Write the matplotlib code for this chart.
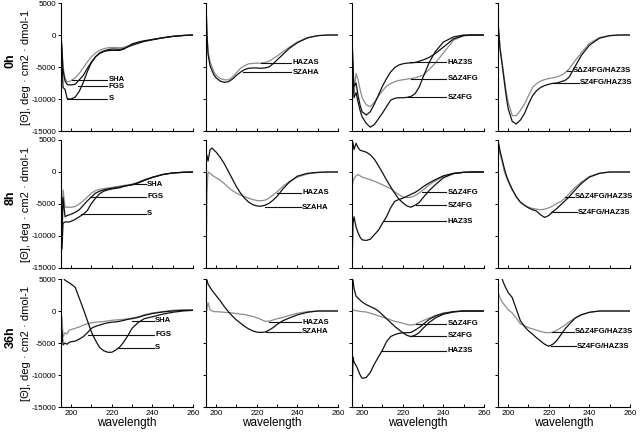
import matplotlib
matplotlib.use('Agg')
import matplotlib.pyplot as plt
from matplotlib.ticker import FixedLocator

plt.rcParams['font.family'] = ['Liberation Sans', 'DejaVu Sans']
plt.rcParams['axes.unicode_minus'] = False

# ---------------- data ----------------
WL = [195, 195.5, 196, 197, 198, 199, 200, 202, 204, 206, 208, 210, 212, 214, 216,
      218, 220, 222, 224, 226, 228, 230, 233, 236, 240, 245, 250, 255, 260]

row_names = ['0h', '8h', '36h']
x_ticks = [200, 220, 240, 260]
y_ticks = [5000, 0, -5000, -10000, -15000]

# 0h
h0_SHA = [0, -2000, -5000, -6800, -7300, -7300, -7100, -6700, -6000, -5100, -4200, -3400, -2800, -2400, -2150,
          -2000, -1950, -1950, -2000, -1900, -1700, -1500, -1200, -950, -700, -400, -200, -80, 0]
h0_FGS = [0, -2500, -5500, -7200, -7700, -7800, -7800, -7700, -7000, -6300, -5200, -4200, -3400, -2800, -2500,
          -2300, -2200, -2200, -2250, -2100, -1850, -1600, -1300, -1000, -750, -450, -220, -80, 0]
h0_S = [0, -4000, -8200, -8500, -9900, -10000, -10000, -9700, -8800, -7400, -5700, -4300, -3400, -2900, -2600,
        -2450, -2400, -2400, -2400, -2200, -1800, -1400, -1100, -900, -700, -450, -220, -80, 0]
h0_HAZAS = [5000, 0, -2500, -4200, -5000, -5800, -6300, -6800, -7000, -7000, -6600, -5900, -5200, -4800, -4500,
            -4450, -4400, -4400, -4300, -4100, -3700, -3300, -2600, -1900, -1100, -400, -100, 0, 0]
h0_SZAHA = [5000, 0, -3000, -4800, -5600, -6300, -6700, -7200, -7400, -7300, -6900, -6300, -5800, -5400, -5200,
            -5150, -5150, -5200, -5150, -5000, -4500, -3900, -3000, -2100, -1200, -450, -100, 0, 0]
h0_HAZ3S = [0, -5000, -8000, -7500, -9500, -11000, -12000, -12500, -12000, -10800, -9400, -8000, -6800, -5800, -5100,
            -4700, -4500, -4400, -4350, -4300, -4100, -3900, -3500, -2900, -1900, -600, -100, 0, 0]
h0_SdZ4FG = [0, -6000, -9000, -6000, -7000, -8500, -9800, -10900, -11200, -10500, -9600, -8700, -8000, -7600, -7300,
             -7100, -7000, -6900, -6800, -6700, -6500, -6300, -5400, -4400, -2800, -800, -100, 0, 0]
h0_SZ4FG = [0, -7000, -9800, -9000, -10500, -11800, -12800, -13800, -14400, -14000, -13100, -12200, -11200, -10200, -9900,
            -9800, -9800, -9750, -9600, -9200, -8200, -6600, -4300, -2600, -1100, -300, 0, 0, 0]
h0_SdZ4FG_HAZ3S = [2000, 0, -2000, -4200, -6500, -8800, -10500, -12600, -12600, -11800, -10800, -9500, -8200, -7600, -7200,
                   -6950, -6800, -6700, -6550, -6300, -5900, -5300, -4000, -2800, -1300, -400, -100, 0, 0]
h0_SZ4FG_HAZ3S = [2000, 0, -2200, -4500, -7000, -9500, -11500, -13500, -13900, -13300, -12300, -10800, -9500, -8700, -8200,
                  -7900, -7700, -7550, -7500, -7300, -7100, -6600, -4900, -3200, -1600, -500, -100, 0, 0]

# 8h
h8_SHA = [0, -9000, -2800, -5500, -5500, -5500, -5500, -5400, -5000, -4500, -3900, -3300, -2900, -2700, -2600,
          -2500, -2400, -2300, -2200, -2100, -2000, -1900, -1600, -1200, -800, -400, -150, -50, 0]
h8_FGS = [0, -10500, -4000, -7000, -6800, -6700, -6600, -6300, -5900, -5200, -4500, -3900, -3300, -3000, -2800,
          -2650, -2550, -2450, -2350, -2200, -2100, -2000, -1700, -1300, -850, -400, -150, -50, 0]
h8_S = [0, -12000, -8000, -7800, -7800, -7800, -7700, -7400, -7000, -6600, -6000, -4900, -4100, -3400, -3000,
        -2800, -2650, -2550, -2450, -2250, -2100, -2000, -1700, -1300, -850, -400, -150, -50, 0]
h8_HAZAS = [-14000, -3000, 0, -200, -500, -700, -900, -1300, -1800, -2400, -2900, -3300, -3600, -3850, -4100,
            -4300, -4450, -4500, -4400, -4100, -3600, -3100, -2200, -1500, -800, -300, -100, 0, 0]
h8_SZAHA = [2600, 2600, 1700, 3500, 3750, 3400, 3100, 2300, 1300, 100, -1100, -2300, -3300, -4100, -4700,
            -5100, -5300, -5350, -5200, -4900, -4400, -3800, -2600, -1600, -650, -200, -50, 0, 0]
h8_SZ4FG = [5000, 4500, 3500, 4500, 3800, 3400, 3300, 3100, 2700, 2000, 1000, -100, -1250, -2300, -3300,
            -4200, -4800, -5300, -5500, -5200, -4800, -4000, -2900, -2000, -900, -250, -50, 0, 0]
h8_SdZ4FG = [-2500, -1500, -1000, -600, -400, -600, -800, -1000, -1200, -1450, -1700, -2000, -2300, -2600, -3100,
             -3500, -3900, -4000, -3950, -3700, -3300, -2800, -2000, -1400, -700, -250, -50, 0, 0]
h8_HAZ3S = [-15000, -8000, -7000, -8600, -9500, -10200, -10600, -10700, -10500, -9800, -9100, -8000, -7000, -5600, -4600,
            -4300, -4100, -3800, -3500, -3200, -2800, -2300, -1700, -1200, -600, -200, -50, 0, 0]
h8_SdZ4FG_HAZ3S = [4000, 3500, 2800, 1700, 200, -700, -1500, -2800, -3800, -4700, -5200, -5500, -5700, -5800, -5900,
                   -5800, -5600, -5300, -4900, -4600, -4100, -3400, -2400, -1600, -700, -200, 0, 0, 0]
h8_SZ4FG_HAZ3S = [4800, 4200, 3300, 2000, 700, -400, -1300, -2700, -3900, -4700, -5200, -5600, -5900, -6100, -6700,
                  -7100, -6800, -6200, -5700, -5100, -4500, -3900, -2800, -1800, -800, -200, 0, 0, 0]

# 36h
h36_SHA = [-6000, -1000, -4000, -3400, -3600, -3000, -2900, -2700, -2500, -2200, -2000, -1850, -1750, -1700, -1650,
           -1550, -1450, -1400, -1350, -1300, -1200, -1100, -900, -600, -300, -100, 100, 200, 200]
h36_FGS = [-6000, -3000, -5300, -5000, -5200, -4900, -4800, -4700, -4400, -4000, -3400, -2700, -2400, -2200, -2000,
           -1850, -1750, -1700, -1600, -1450, -1300, -1200, -1000, -700, -400, -150, 0, 100, 100]
h36_S = [5500, 5500, 5200, 4800, 4600, 4400, 4200, 3700, 2000, 300, -1500, -3300, -4600, -5700, -6200,
         -6450, -6450, -6100, -5600, -4800, -3800, -2700, -1800, -1200, -900, -500, -200, 0, 100]
h36_HAZAS = [-1000, 500, 1300, 200, 0, -100, -100, -150, -200, -250, -300, -400, -500, -550, -700,
             -850, -1050, -1300, -1600, -1600, -1400, -1200, -1000, -700, -350, -100, 0, 0, 0]
h36_SZAHA = [5000, 4800, 4200, 3700, 3200, 2800, 2400, 1600, 700, -100, -800, -1400, -1900, -2400, -2800,
             -3100, -3300, -3350, -3300, -3000, -2600, -2100, -1500, -1100, -600, -200, 0, 0, 0]
h36_SZ4FG = [5000, 4800, 3500, 2300, 2000, 1700, 1400, 1000, 700, 400, 0, -600, -1200, -1800, -2400,
             -2900, -3400, -3800, -4000, -3800, -3400, -2700, -1800, -1100, -500, -150, 0, 0, 0]
h36_SdZ4FG = [200, 200, 100, 50, 0, -50, -100, -150, -350, -550, -750, -950, -1150, -1400, -1600,
              -1750, -1900, -2100, -2200, -2100, -1800, -1500, -1100, -700, -300, -100, 0, 0, 0]
h36_HAZ3S = [-13400, -7200, -8000, -8500, -9200, -10000, -10500, -10400, -9600, -8300, -7200, -6100, -4800, -4000, -3700,
             -3500, -3400, -3400, -3350, -3000, -2600, -2100, -1300, -800, -400, -100, 0, 0, 0]
h36_SdZ4FG_HAZ3S = [2800, 2500, 2000, 1400, 1000, 600, 200, -300, -1100, -2000, -2300, -2600, -2800, -3000, -3200,
                    -3350, -3400, -3300, -3000, -2600, -2200, -1700, -1100, -600, -200, 0, 0, 0, 0]
h36_SZ4FG_HAZ3S = [5500, 5500, 5500, 5000, 4200, 3500, 2900, 2100, 300, -1500, -2400, -3100, -3600, -4200, -4700,
                   -5200, -5500, -5200, -4600, -3700, -2800, -2100, -1100, -600, -200, 0, 0, 0, 0]

GRAY = '#8c8c8c'
BLACK = '#111111'

# (series list [(values, color)], labels [(text, y, leader_start_wl, text_wl)])
panels = [
    [
        ([(h0_SHA, GRAY), (h0_FGS, BLACK), (h0_S, BLACK)],
         [('SHA', -7000, 200.5, 218.3), ('FGS', -8000, 203.5, 218.3), ('S', -10000, 198, 218.3)]),
        ([(h0_HAZAS, GRAY), (h0_SZAHA, BLACK)],
         [('HAZAS', -4375, 222, 237.6), ('SZAHA', -5800, 213, 237.6)]),
        ([(h0_SdZ4FG, GRAY), (h0_HAZ3S, BLACK), (h0_SZ4FG, BLACK)],
         [('HAZ3S', -4250, 223.5, 242), ('SΔZ4FG', -6875, 224, 242), ('SZ4FG', -9700, 222.5, 242)]),
        ([(h0_SdZ4FG_HAZ3S, GRAY), (h0_SZ4FG_HAZ3S, BLACK)],
         [('SΔZ4FG/HAZ3S', -5600, 229, 231.6), ('SZ4FG/HAZ3S', -7500, 222, 235.3)]),
    ],
    [
        ([(h8_SHA, GRAY), (h8_FGS, BLACK), (h8_S, BLACK)],
         [('SHA', -1875, 230.5, 237.4), ('FGS', -3900, 209.5, 237.4), ('S', -6560, 205, 237.4)]),
        ([(h8_HAZAS, GRAY), (h8_SZAHA, BLACK)],
         [('HAZAS', -3280, 230, 242.3), ('SZAHA', -5470, 224, 242.3)]),
        ([(h8_SdZ4FG, GRAY), (h8_SZ4FG, BLACK), (h8_HAZ3S, BLACK)],
         [('SΔZ4FG', -3125, 229.5, 242), ('SZ4FG', -5160, 226.5, 242), ('HAZ3S', -7660, 210.5, 242)]),
        ([(h8_SdZ4FG_HAZ3S, GRAY), (h8_SZ4FG_HAZ3S, BLACK)],
         [('SΔZ4FG/HAZ3S', -3900, 228, 233), ('SZ4FG/HAZ3S', -6300, 221, 234.5)]),
    ],
    [
        ([(h36_SHA, GRAY), (h36_FGS, BLACK), (h36_S, BLACK)],
         [('SHA', -1530, 230, 241.3), ('FGS', -3750, 208.5, 241.3), ('S', -5780, 223, 241.3)]),
        ([(h36_HAZAS, GRAY), (h36_SZAHA, BLACK)],
         [('HAZAS', -1720, 226, 242.3), ('SZAHA', -3280, 224.5, 242.3)]),
        ([(h36_SdZ4FG, GRAY), (h36_SZ4FG, BLACK), (h36_HAZ3S, BLACK)],
         [('SΔZ4FG', -2030, 226.5, 242), ('SZ4FG', -3900, 223.5, 242), ('HAZ3S', -6250, 209.5, 242)]),
        ([(h36_SdZ4FG_HAZ3S, GRAY), (h36_SZ4FG_HAZ3S, BLACK)],
         [('SΔZ4FG/HAZ3S', -3280, 221.5, 233), ('SZ4FG/HAZ3S', -5470, 221, 234)]),
    ],
]

# ---------------- layout ----------------
W, H = 640, 432
lefts = [61, 206, 352, 498]
tops = [3, 140, 279]
AW, AH = 132, 128

fig = plt.figure(figsize=(W / 100, H / 100), dpi=100)

for r in range(3):
    for c in range(4):
        ax = fig.add_axes([lefts[c] / W, 1 - (tops[r] + AH) / H, AW / W, AH / H])
        series, labels = panels[r][c]
        for vals, col in series:
            ax.plot(WL, vals, color=col, lw=0.9)
        for text, yv, xs, xt in labels:
            ax.plot([xs, xt - 0.6], [yv, yv], color=BLACK, lw=0.8, clip_on=False)
            ax.text(xt, yv, text, fontsize=5.6, fontweight='bold', ha='left', va='center')
        ax.set_xlim(195, 260)
        ax.set_ylim(-15000, 5000)
        for s in ('top', 'right'):
            ax.spines[s].set_visible(False)
        for s in ('left', 'bottom'):
            ax.spines[s].set_linewidth(0.8)
        ax.yaxis.set_major_locator(FixedLocator(y_ticks))
        ax.xaxis.set_major_locator(FixedLocator(x_ticks))
        ax.xaxis.set_minor_locator(FixedLocator([210, 230, 250]))
        ax.tick_params(axis='y', direction='out', length=2.5, width=0.7, labelsize=5.8, pad=1)
        ax.tick_params(axis='x', which='both', direction='in', length=2.5, width=0.7, labelsize=5.8, pad=2)
        if c > 0:
            ax.set_yticklabels([])
        else:
            ax.set_yticklabels([str(v) for v in y_ticks])
        if r < 2:
            ax.set_xticklabels([])
        else:
            ax.set_xticklabels([str(v) for v in x_ticks])
            ax.set_xlabel('wavelength', fontsize=8.5, labelpad=0)

    center = tops[r] + AH / 2
    fig.text(11 / W, 1 - (center - 6) / H, row_names[r], rotation=90, fontsize=9,
             fontweight='bold', ha='center', va='center')
    fig.text(26 / W, 1 - center / H, '[Θ], deg · cm2 · dmol-1', rotation=90, fontsize=8,
             ha='center', va='center')

fig.savefig('out.png', dpi=100)
